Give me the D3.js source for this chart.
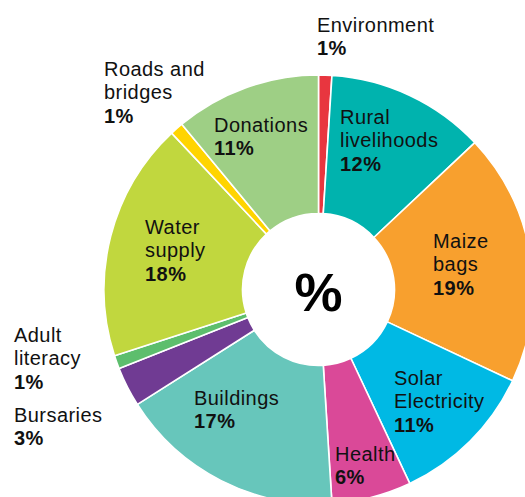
<!DOCTYPE html>
<html><head><meta charset="utf-8">
<script src="https://cdn.jsdelivr.net/npm/d3@7"></script>
<style>
html,body{margin:0;padding:0;background:#fff;}
svg{display:block;}
text{font-family:"Liberation Sans",Arial,Helvetica,sans-serif;}
</style></head>
<body>
<script>
const categories = ["Environment","Rural livelihoods","Maize bags","Solar Electricity","Health","Buildings","Bursaries","Adult literacy","Water supply","Roads and bridges","Donations"];
const values = [1,12,19,11,6,17,3,1,18,1,11];
const colors = ["#e8363f","#00b3ae","#f8a02e","#00b9e4","#da4998","#67c6bb","#703b93","#5dbe6d","#c1d73e","#ffd400","#9ecf85"];
const labelLines = [["Environment"],["Rural","livelihoods"],["Maize","bags"],["Solar","Electricity"],["Health"],["Buildings"],["Bursaries"],["Adult","literacy"],["Water","supply"],["Roads and","bridges"],["Donations"]];
// layout: label anchor (left x, first baseline)
const labelPos = [[317,32],[340,124],[433,248],[394,385],[335,461],[194,405],[14,422],[14,342],[145,234],[104,76],[214,132]];

const W=525,H=497, cx=318.5, cy=289.5, rOut=214.5, rIn=76, lh=23.3;
const svg=d3.select("body").append("svg").attr("width",W).attr("height",H);
const pie=d3.pie().sort(null).value(d=>d).startAngle(0).endAngle(2*Math.PI);
const arc=d3.arc().innerRadius(rIn).outerRadius(rOut);
const g=svg.append("g").attr("transform",`translate(${cx},${cy})`);
g.selectAll("path").data(pie(values)).join("path")
  .attr("d",arc).attr("fill",(d,i)=>colors[i])
  .attr("stroke","#fff").attr("stroke-width",1.6).attr("stroke-linejoin","round");

g.append("text").attr("text-anchor","middle").attr("x",0).attr("y",21)
  .attr("font-size",54).attr("font-weight","bold").attr("fill","#000").text("%");

const lab=svg.append("g");
categories.forEach((c,i)=>{
  const [x,y]=labelPos[i];
  const t=lab.append("text").attr("x",x).attr("y",y).attr("font-size",20)
    .attr("letter-spacing",0.45).attr("fill","#111");
  labelLines[i].forEach((ln,j)=>{
    t.append("tspan").attr("x",x).attr("y",y+j*lh).text(ln);
  });
  t.append("tspan").attr("x",x).attr("y",y+labelLines[i].length*lh)
    .attr("font-weight","bold").text(values[i]+"%");
});
</script>
</body></html>
